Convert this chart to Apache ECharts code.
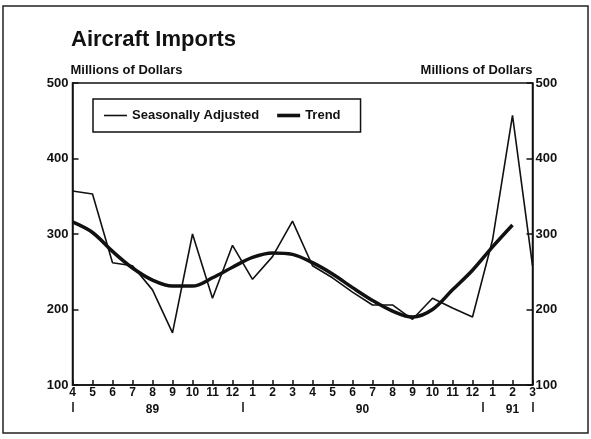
<!DOCTYPE html>
<html>
<head>
<meta charset="utf-8">
<script src="https://cdn.jsdelivr.net/npm/echarts@6/dist/echarts.min.js"></script>
<style>
html,body{margin:0;padding:0;background:#fff;}
#chart{width:591px;height:439px;}
</style>
</head>
<body>
<div id="chart"></div>
<script>
// Data
var months = ['4','5','6','7','8','9','10','11','12','1','2','3','4','5','6','7','8','9','10','11','12','1','2','3'];
var seasonallyAdjusted = [357,353,262,258,226,169,300,215,285,240,270,317,258,242,223,206,206,187,215,202,190,292,457,258];
var trend = [316,302,277,255,239,231,231,242,256,269,275,273,262,247,229,212,198,190,200,226,252,283,312,null];
// Year row: half-month slots (47 slots span Apr 89 .. Mar 91)
var yearSlots = 47;
var yearLabels = {8:'89', 29:'90', 44:'91'};
var yearSeparators = [0, 17, 41, 46];
var yTicks = {min:100, max:500, interval:100};

var FONT = '"Liberation Sans", Arial, sans-serif';
var INK = '#111';

var yearData = [];
for (var i = 0; i < yearSlots; i++) yearData.push(yearLabels[i] || '');

var chart = echarts.init(document.getElementById('chart'), null, {renderer:'canvas'});
var option = {
  backgroundColor:'#fff',
  animation:false,
  title:{
    text:'Aircraft Imports', left:71, top:29, padding:0,
    textStyle:{fontFamily:FONT, fontWeight:'bold', fontSize:22, color:INK}
  },
  legend:{
    left:93, top:99, padding:[10,20,10,11],
    borderColor:INK, borderWidth:1.5,
    itemWidth:23, itemHeight:12, itemGap:18, symbolKeepAspect:true,
    textStyle:{fontFamily:FONT, fontWeight:'bold', fontSize:13, color:INK},
    data:[
      {name:'Seasonally Adjusted', icon:'path://M0,0H23V1.6H0Z'},
      {name:'Trend', icon:'path://M0,0H23V3.6H0Z'}
    ]
  },
  grid:{left:72.5, right:58.5, top:83, bottom:54, show:true, borderColor:INK, borderWidth:1.5, backgroundColor:'transparent'},
  xAxis:[{
    type:'category', data:months, boundaryGap:false,
    axisLine:{lineStyle:{color:INK, width:1.5}},
    axisTick:{inside:true, length:5, interval:0, lineStyle:{color:INK, width:1.5}},
    axisLabel:{interval:0, margin:2, fontFamily:FONT, fontWeight:'bold', fontSize:12, color:INK},
    splitLine:{show:false}
  },{
    type:'category', data:yearData, boundaryGap:false, position:'bottom', offset:17,
    axisLine:{show:false},
    axisTick:{show:true, length:10, interval:function(idx){return yearSeparators.indexOf(idx)>=0;}, lineStyle:{color:INK, width:1.5}},
    axisLabel:{interval:0, margin:2, fontFamily:FONT, fontWeight:'bold', fontSize:12, color:INK},
    splitLine:{show:false}
  }],
  yAxis:[{
    type:'value', min:yTicks.min, max:yTicks.max, interval:yTicks.interval, position:'left',
    name:'Millions of Dollars', nameLocation:'end', nameGap:2,
    nameTextStyle:{align:'left', fontFamily:FONT, fontWeight:'bold', fontSize:13, color:INK, padding:[0,0,0,-2]},
    axisLine:{show:true, lineStyle:{color:INK, width:1.5}},
    axisTick:{show:true, inside:true, length:6, lineStyle:{color:INK, width:1.5}},
    axisLabel:{margin:4, fontFamily:FONT, fontWeight:'bold', fontSize:13, color:INK},
    splitLine:{show:false}
  },{
    type:'value', min:yTicks.min, max:yTicks.max, interval:yTicks.interval, position:'right',
    name:'Millions of Dollars', nameLocation:'end', nameGap:2,
    nameTextStyle:{align:'right', fontFamily:FONT, fontWeight:'bold', fontSize:13, color:INK},
    axisLine:{show:true, lineStyle:{color:INK, width:1.5}},
    axisTick:{show:true, inside:true, length:6, lineStyle:{color:INK, width:1.5}},
    axisLabel:{margin:3, fontFamily:FONT, fontWeight:'bold', fontSize:13, color:INK},
    splitLine:{show:false}
  }],
  series:[{
    name:'Seasonally Adjusted', type:'line', data:seasonallyAdjusted, xAxisIndex:0, yAxisIndex:0,
    symbol:'none', lineStyle:{color:INK, width:1.6}, itemStyle:{color:INK}
  },{
    name:'Trend', type:'line', data:trend, xAxisIndex:0, yAxisIndex:0,
    symbol:'none', smooth:0.35, lineStyle:{color:INK, width:3.5}, itemStyle:{color:INK}
  }],
  graphic:[{
    type:'rect', shape:{x:3, y:6, width:585, height:427},
    style:{fill:'none', stroke:'#222', lineWidth:1.5}, silent:true
  }]
};
chart.setOption(option);
</script>
</body>
</html>
